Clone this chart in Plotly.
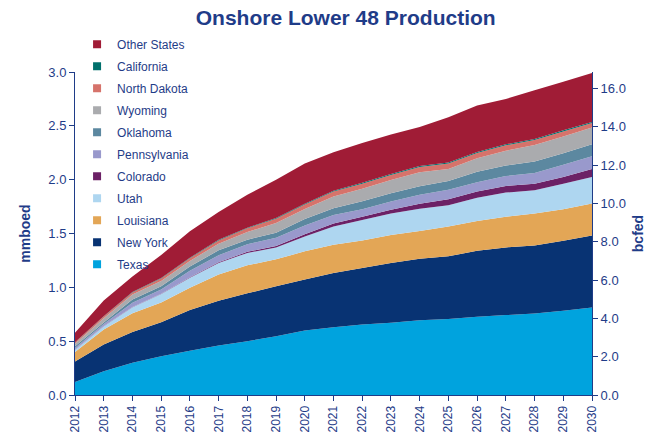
import plotly.graph_objects as go

# Onshore Lower 48 production outlook, mmboed by state
years = list(range(2012, 2031))

texas = [0.12, 0.22, 0.30, 0.36, 0.41, 0.46, 0.50, 0.545, 0.60, 0.63, 0.655, 0.67, 0.695, 0.705, 0.727, 0.742, 0.757, 0.782, 0.812]
new_york = [0.19, 0.25, 0.285, 0.316, 0.38, 0.415, 0.445, 0.465, 0.473, 0.504, 0.525, 0.555, 0.57, 0.583, 0.613, 0.629, 0.632, 0.65, 0.669]
louisiana = [0.09, 0.138, 0.175, 0.184, 0.206, 0.244, 0.26, 0.25, 0.261, 0.261, 0.255, 0.261, 0.258, 0.276, 0.276, 0.285, 0.297, 0.294, 0.297]
utah = [0.02, 0.031, 0.055, 0.077, 0.092, 0.107, 0.115, 0.11, 0.138, 0.169, 0.19, 0.199, 0.208, 0.199, 0.215, 0.224, 0.215, 0.236, 0.246]
colorado = [0.002, 0.003, 0.003, 0.004, 0.005, 0.007, 0.01, 0.015, 0.022, 0.028, 0.031, 0.035, 0.045, 0.055, 0.06, 0.061, 0.061, 0.063, 0.076]
pennsylvania = [0.015, 0.017, 0.038, 0.04, 0.06, 0.065, 0.07, 0.075, 0.08, 0.08, 0.07, 0.077, 0.083, 0.089, 0.086, 0.092, 0.101, 0.113, 0.117]
oklahoma = [0.015, 0.015, 0.031, 0.03, 0.04, 0.046, 0.043, 0.046, 0.061, 0.062, 0.074, 0.076, 0.08, 0.08, 0.097, 0.098, 0.105, 0.108, 0.113]
wyoming = [0.025, 0.04, 0.046, 0.048, 0.052, 0.061, 0.07, 0.092, 0.092, 0.11, 0.116, 0.123, 0.129, 0.113, 0.124, 0.138, 0.153, 0.156, 0.154]
north_dakota = [0.01, 0.015, 0.02, 0.022, 0.025, 0.03, 0.035, 0.04, 0.042, 0.045, 0.047, 0.048, 0.05, 0.05, 0.05, 0.05, 0.048, 0.046, 0.042]
california = [0.002, 0.003, 0.004, 0.005, 0.005, 0.006, 0.006, 0.007, 0.007, 0.008, 0.008, 0.008, 0.008, 0.009, 0.009, 0.009, 0.009, 0.01, 0.01]
other_states = [0.09, 0.145, 0.143, 0.214, 0.245, 0.259, 0.306, 0.355, 0.374, 0.358, 0.369, 0.368, 0.364, 0.421, 0.433, 0.422, 0.452, 0.452, 0.454]

series = [
    ("Texas", texas, "#00A3DE"),
    ("New York", new_york, "#083373"),
    ("Louisiana", louisiana, "#E3A656"),
    ("Utah", utah, "#AED6F0"),
    ("Colorado", colorado, "#6C2166"),
    ("Pennsylvania", pennsylvania, "#9999CC"),
    ("Oklahoma", oklahoma, "#5C88A0"),
    ("Wyoming", wyoming, "#AAABAE"),
    ("North Dakota", north_dakota, "#D6736B"),
    ("California", california, "#00706C"),
    ("Other States", other_states, "#A01C36"),
]

# conversion used for the secondary axis (bcf per mmboe)
BCF_PER_MMBOE = 5.62
Y_MAX = 3.0

NAVY = "#1F3C88"
FONT = "Liberation Sans, Arial, sans-serif"

fig = go.Figure()

for name, vals, color in series:
    fig.add_trace(go.Scatter(
        x=years, y=vals, name=name, stackgroup="prod", mode="none",
        fillcolor=color, line=dict(width=0), showlegend=False,
        hoverinfo="x+y+name",
    ))

# square legend swatches, top of the stack listed first;
# one group per state so the group gap spaces the rows
for name, vals, color in reversed(series):
    fig.add_trace(go.Scatter(
        x=[None], y=[None], name=name, mode="markers",
        marker=dict(symbol="square", size=8, color=color),
        legendgroup=name, showlegend=True,
    ))

# invisible total on the bcfed axis so it is tied to the data
totals = [sum(v[i] for _, v, _ in series) for i in range(len(years))]
fig.add_trace(go.Scatter(
    x=years, y=[t * BCF_PER_MMBOE for t in totals], yaxis="y2",
    mode="lines", line=dict(width=0, color="rgba(0,0,0,0)"),
    showlegend=False, hoverinfo="skip",
))

axis_common = dict(
    showgrid=False, zeroline=False, showline=True, linecolor=NAVY, linewidth=1,
    ticks="outside", tickcolor=NAVY, ticklen=5,
    tickfont=dict(family=FONT, size=13, color=NAVY),
)

fig.update_layout(
    width=656, height=445,
    margin=dict(l=75, r=64, t=72, b=47),
    paper_bgcolor="white", plot_bgcolor="white",
    font=dict(family=FONT, color=NAVY),
    title=dict(
        text="<b>Onshore Lower 48 Production</b>",
        x=0.527, xanchor="center", y=0.96, yanchor="middle",
        font=dict(family=FONT, size=21, color=NAVY),
    ),
    xaxis=dict(
        **{k: v for k, v in axis_common.items() if k != "tickfont"},
        tickfont=dict(family=FONT, size=12, color=NAVY),
        range=[2012, 2030], tickvals=years, ticktext=[str(y) for y in years],
        tickangle=-90,
    ),
    yaxis=dict(
        **axis_common, range=[0, Y_MAX], dtick=0.5, tickformat=".1f",
        title=dict(text="<b>mmboed</b>", font=dict(family=FONT, size=14, color=NAVY), standoff=14),
    ),
    yaxis2=dict(
        **axis_common, overlaying="y", side="right",
        range=[0, Y_MAX * BCF_PER_MMBOE], dtick=2, tickformat=".1f",
        title=dict(text="<b>bcfed</b>", font=dict(family=FONT, size=14, color=NAVY), standoff=8),
    ),
    legend=dict(
        x=0.004, xanchor="left", y=1.131, yanchor="top",
        traceorder="grouped", tracegroupgap=3, maxheight=400,
        font=dict(family=FONT, size=12, color=NAVY),
        bgcolor="rgba(0,0,0,0)", itemwidth=30,
    ),
    showlegend=True,
)

fig.write_html("out.html")
